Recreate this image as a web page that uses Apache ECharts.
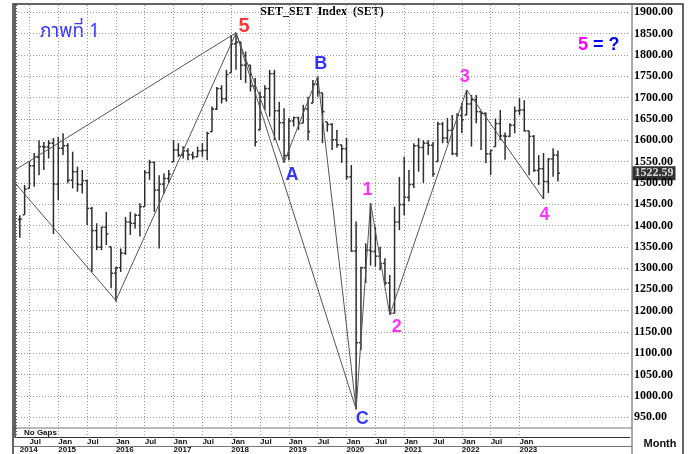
<!DOCTYPE html>
<html>
<head>
<meta charset="utf-8">
<script src="https://cdn.jsdelivr.net/npm/echarts@6.0.0/dist/echarts.min.js"></script>
<style>
  html, body { margin: 0; padding: 0; background: #fff; }
  #chart { width: 693px; height: 454px; }
</style>
</head>
<body>
<div id="chart"></div>
<script>
// monthly SET index bars, May 2014 .. Sep 2023
const firstBar = '2014-05';
const openP = [
  1414, 1425, 1487, 1540, 1560, 1585, 1584, 1593,
  1497, 1581, 1587, 1506, 1526, 1496, 1505, 1440, 1388, 1349, 1396, 1350,
  1288, 1301, 1335, 1408, 1405, 1424, 1444, 1524, 1548, 1483, 1497, 1510,
  1549, 1577, 1565, 1575, 1566, 1561, 1575, 1576, 1620, 1673, 1721, 1697,
  1758, 1826, 1830, 1776, 1776, 1727, 1624, 1701, 1721, 1756, 1669, 1641,
  1564, 1645, 1653, 1640, 1673, 1687, 1731, 1711, 1643, 1637, 1601, 1589,
  1580, 1514, 1340, 1125, 1301, 1342, 1339, 1328, 1311, 1265, 1194, 1408,
  1449, 1466, 1496, 1587, 1583, 1593, 1588, 1550, 1638, 1605, 1623, 1568,
  1658, 1659, 1685, 1695, 1667, 1663, 1568, 1585, 1639, 1610, 1609, 1635,
  1669, 1671, 1622, 1609, 1529, 1533, 1503, 1556, 1565
];
const highP = [
  1424, 1495, 1549, 1570, 1600, 1596, 1600, 1605,
  1608, 1616, 1593, 1573, 1538, 1530, 1507, 1444, 1405, 1397, 1432, 1350,
  1303, 1346, 1420, 1432, 1428, 1452, 1530, 1554, 1550, 1518, 1522, 1530,
  1600, 1593, 1586, 1581, 1573, 1585, 1593, 1620, 1679, 1725, 1729, 1765,
  1847, 1852, 1831, 1808, 1776, 1746, 1714, 1729, 1765, 1765, 1690, 1675,
  1652, 1655, 1655, 1683, 1702, 1741, 1749, 1711, 1643, 1640, 1624, 1589,
  1605, 1542, 1409, 1303, 1358, 1452, 1397, 1350, 1323, 1284, 1444, 1514,
  1561, 1530, 1593, 1605, 1600, 1600, 1596, 1643, 1643, 1652, 1659, 1663,
  1687, 1718, 1706, 1706, 1667, 1665, 1577, 1651, 1671, 1618, 1640, 1679,
  1699, 1694, 1622, 1612, 1565, 1570, 1558, 1581, 1576
];
const lowP = [
  1371, 1425, 1487, 1491, 1518, 1530, 1557, 1380,
  1460, 1565, 1499, 1487, 1479, 1475, 1401, 1291, 1342, 1342, 1354, 1253,
  1221, 1291, 1331, 1378, 1393, 1374, 1444, 1507, 1432, 1346, 1475, 1499,
  1549, 1561, 1557, 1553, 1555, 1561, 1561, 1553, 1620, 1671, 1686, 1690,
  1758, 1765, 1741, 1734, 1714, 1585, 1624, 1671, 1655, 1600, 1600, 1547,
  1553, 1632, 1624, 1640, 1600, 1687, 1702, 1593, 1620, 1577, 1582, 1547,
  1507, 1338, 969, 1108, 1265, 1306, 1303, 1295, 1260, 1190, 1194, 1389,
  1424, 1456, 1488, 1526, 1500, 1565, 1514, 1550, 1593, 1593, 1565, 1561,
  1617, 1659, 1585, 1640, 1577, 1546, 1518, 1585, 1600, 1554, 1608, 1616,
  1659, 1620, 1518, 1526, 1495, 1462, 1476, 1514, 1503
];
const closeP = [
  1415, 1485, 1540, 1560, 1585, 1584, 1593, 1497,
  1581, 1587, 1506, 1526, 1496, 1505, 1440, 1388, 1349, 1396, 1380, 1288,
  1301, 1335, 1408, 1405, 1424, 1444, 1524, 1548, 1483, 1497, 1510, 1520,
  1577, 1565, 1575, 1566, 1561, 1575, 1576, 1616, 1673, 1721, 1697, 1754,
  1826, 1830, 1776, 1780, 1727, 1596, 1701, 1721, 1756, 1669, 1641, 1564,
  1645, 1653, 1639, 1673, 1620, 1731, 1712, 1667, 1637, 1601, 1589, 1580,
  1514, 1340, 1125, 1301, 1342, 1339, 1328, 1311, 1265, 1194, 1408, 1449,
  1466, 1496, 1587, 1583, 1593, 1588, 1521, 1638, 1605, 1623, 1568, 1658,
  1648, 1685, 1695, 1667, 1663, 1568, 1576, 1639, 1610, 1609, 1635, 1669,
  1671, 1622, 1609, 1529, 1533, 1503, 1556, 1565, 1522.59
];

// wave count pivots
const waveLabels = ['5', 'A', 'B', 'C', '1', '2', '3', '4'];
const waveMonths = ['2018-02', '2018-12', '2019-07', '2020-03', '2020-06', '2020-10', '2022-02', '2023-06'];
const wavePrices = [1852, 1548, 1750, 969, 1453, 1190, 1718, 1462];
// lines drawn on the chart
const startMonth = '2014-04';
const mainWave = [[startMonth, 1500], ['2016-01', 1224]].concat(waveMonths.map((m, i) => [m, wavePrices[i]]));
const upperLine = [[startMonth, 1530], ['2018-02', 1852]];
const crossLine = [['2018-02', 1852], ['2020-03', 969]];

const priceMin = 950, priceMax = 1900, priceStep = 50;

// axis months Apr 2014 .. Dec 2024
const axisMonths = [];
for (let y = 2014; y <= 2024; y++) {
  for (let m = 1; m <= 12; m++) {
    if (y === 2014 && m < 4) continue;
    axisMonths.push(y + '-' + String(m).padStart(2, '0'));
  }
}
const i0 = axisMonths.indexOf(firstBar);
const barMonths = axisMonths.slice(i0, i0 + closeP.length);
const ohlc = barMonths.map((m, i) => [m, openP[i], highP[i], lowP[i], closeP[i]]);

const lastLabelMonth = '2023-01';
function isGridMonth(v) {
  return (v.endsWith('-01') || v.endsWith('-07')) && v <= lastLabelMonth;
}

const waveStyle = {
  '5': { color: '#ff0000', offset: [8, -6], size: 20 },
  'A': { color: '#0000ff', offset: [8, 13], size: 18 },
  'B': { color: '#0000ff', offset: [3, -12], size: 18 },
  'C': { color: '#0000ff', offset: [6, 10], size: 18 },
  '1': { color: '#ff00ff', offset: [-3, -13], size: 18 },
  '2': { color: '#ff00ff', offset: [7, 12], size: 18 },
  '3': { color: '#ff00ff', offset: [-2, -13], size: 18 },
  '4': { color: '#ff00ff', offset: [1, 16], size: 18 }
};

function renderOhlc(params, api) {
  const x = api.value(0);
  const o = api.coord([x, api.value(1)]);
  const h = api.coord([x, api.value(2)]);
  const l = api.coord([x, api.value(3)]);
  const c = api.coord([x, api.value(4)]);
  const st = { stroke: '#2e2e2e', lineWidth: 1.5 };
  return {
    type: 'group',
    children: [
      { type: 'line', shape: { x1: h[0], y1: h[1], x2: l[0], y2: l[1] }, style: st },
      { type: 'line', shape: { x1: o[0] - 2, y1: o[1], x2: o[0], y2: o[1] }, style: st },
      { type: 'line', shape: { x1: c[0], y1: c[1], x2: c[0] + 2, y2: c[1] }, style: st }
    ]
  };
}

const chart = echarts.init(document.getElementById('chart'));
const gridLine = { color: '#9a9a9a', type: [1, 2], width: 1 };
const hidden = 'rgba(0,0,0,0)';
const smallFont = { fontSize: 8, fontWeight: 'bold', fontFamily: 'Liberation Sans', color: '#111', lineHeight: 8, align: 'left' };

chart.setOption({
  animation: false,
  backgroundColor: '#fff',
  grid: [
    { left: 15, right: 63, top: 5, bottom: 16 },
    { left: 15, right: 63, top: 12.3, bottom: 36.7 }
  ],
  xAxis: [
    {
      gridIndex: 0, type: 'category', data: axisMonths, boundaryGap: false,
      axisLine: { lineStyle: { color: '#333' } },
      axisTick: { show: false },
      splitLine: { show: true, interval: (i, v) => isGridMonth(v), lineStyle: gridLine },
      axisLabel: {
        interval: (i, v) => isGridMonth(v),
        hideOverlap: false,
        margin: 1, align: 'left',
        formatter: function (v) {
          const p = v.split('-');
          if (p[1] === '01') return '{m|Jan}\n{y|' + p[0] + '}';
          return '{m|Jul}';
        },
        rich: { m: smallFont, y: smallFont }
      }
    },
    { gridIndex: 1, type: 'category', data: axisMonths, boundaryGap: false, show: false },
    {
      // year of the first bar, placed under its own month
      gridIndex: 0, type: 'category', data: axisMonths, boundaryGap: false, position: 'bottom',
      axisLine: { show: false }, axisTick: { show: false }, splitLine: { show: false },
      axisLabel: {
        interval: (i, v) => v === firstBar,
        margin: 1, align: 'left',
        formatter: v => '{m| }\n{y|' + v.split('-')[0] + '}',
        rich: { m: smallFont, y: smallFont }
      }
    }
  ],
  yAxis: [
    {
      gridIndex: 0, type: 'value', min: 0, max: 432, interval: 3, position: 'left',
      axisLine: { show: true, lineStyle: { color: '#333', width: 1.5 } },
      axisTick: { show: true, inside: true, length: 2, lineStyle: { color: '#555' } },
      axisLabel: { show: false }, splitLine: { show: false }
    },
    {
      gridIndex: 1, type: 'value', min: priceMin, max: priceMax, interval: priceStep,
      position: 'right', offset: 2,
      axisLine: { show: false }, axisTick: { show: false },
      splitLine: { show: true, lineStyle: gridLine },
      axisLabel: {
        margin: 2, formatter: v => v.toFixed(2),
        fontFamily: 'Liberation Serif', fontWeight: 'bold', fontSize: 12, color: '#000'
      }
    }
  ],
  series: [
    {
      type: 'custom', xAxisIndex: 1, yAxisIndex: 1, renderItem: renderOhlc,
      encode: { x: 0, y: [1, 2, 3, 4] }, data: ohlc, silent: true, z: 2
    },
    {
      type: 'line', xAxisIndex: 1, yAxisIndex: 1, data: mainWave, symbol: 'none',
      lineStyle: { color: '#555', width: 1 }, silent: true, z: 3
    },
    {
      type: 'line', xAxisIndex: 1, yAxisIndex: 1, data: upperLine, symbol: 'none',
      lineStyle: { color: '#555', width: 1 }, silent: true, z: 3
    },
    {
      type: 'line', xAxisIndex: 1, yAxisIndex: 1, data: crossLine, symbol: 'none',
      lineStyle: { color: '#555', width: 1 }, silent: true, z: 3
    },
    {
      type: 'scatter', xAxisIndex: 1, yAxisIndex: 1, symbolSize: 1, silent: true, z: 4,
      itemStyle: { color: hidden },
      label: { show: true, position: 'inside', formatter: '{b}', fontWeight: 'bold', fontFamily: 'Liberation Sans' },
      labelLayout: function (p) {
        const s = waveStyle[waveLabels[p.dataIndex]];
        return { dx: s.offset[0], dy: s.offset[1], hideOverlap: false };
      },
      data: waveLabels.map((n, i) => ({
        name: n, value: [waveMonths[i], wavePrices[i]],
        label: { color: waveStyle[n].color, fontSize: waveStyle[n].size }
      }))
    },
    {
      type: 'scatter', xAxisIndex: 1, yAxisIndex: 1, symbolSize: 1, silent: true, z: 5, clip: false,
      itemStyle: { color: hidden },
      label: {
        show: true, position: 'right', distance: 2,
        formatter: p => p.value[1].toFixed(2),
        backgroundColor: '#000', color: '#fff', padding: [1, 2, 0, 2],
        fontFamily: 'Liberation Serif', fontWeight: 'bold', fontSize: 12, lineHeight: 13
      },
      data: [[axisMonths[axisMonths.length - 1], closeP[closeP.length - 1]]]
    }
  ],
  graphic: [
    { type: 'rect', shape: { x: 13, y: 4, width: 670, height: 460 }, style: { fill: 'none', stroke: '#333', lineWidth: 1.5 }, silent: true },
    { type: 'line', shape: { x1: 632, y1: 4, x2: 632, y2: 454 }, style: { stroke: '#555', lineWidth: 1 }, silent: true },
    { type: 'line', shape: { x1: 14, y1: 428, x2: 632, y2: 428 }, style: { stroke: '#777', lineWidth: 1 }, silent: true },
    { type: 'line', shape: { x1: 14, y1: 446.5, x2: 632, y2: 446.5 }, style: { stroke: '#777', lineWidth: 1 }, silent: true },
    { type: 'text', x: 24, y: 433, style: { text: 'No Gaps', font: 'bold 8px "Liberation Sans"', fill: '#111', verticalAlign: 'middle' }, silent: true },
    { type: 'text', x: 660, y: 444, style: { text: 'Month', font: 'bold 11px "Liberation Sans"', fill: '#111', align: 'center', verticalAlign: 'middle' }, silent: true },
    { type: 'text', x: 322, y: 12, style: { text: 'SET_SET  Index  (SET)', font: 'bold 12px "Liberation Serif"', fill: '#000', align: 'center', verticalAlign: 'middle' }, silent: true },
    { type: 'text', x: 40, y: 33, style: { text: 'ภาพที่ 1', font: '19px "Noto Sans Thai", "Noto Sans", "DejaVu Sans", sans-serif', fill: '#3a3aff', verticalAlign: 'middle' }, silent: true },
    {
      type: 'text', x: 578, y: 45, silent: true,
      style: {
        text: '{a|5} {b|= ?}', verticalAlign: 'middle',
        rich: {
          a: { fontSize: 18, fontWeight: 'bold', fontFamily: 'Liberation Sans', fill: '#ff00ff' },
          b: { fontSize: 18, fontWeight: 'bold', fontFamily: 'Liberation Sans', fill: '#0000ff' }
        },
        font: 'bold 18px "Liberation Sans"'
      }
    }
  ]
});
</script>
</body>
</html>
